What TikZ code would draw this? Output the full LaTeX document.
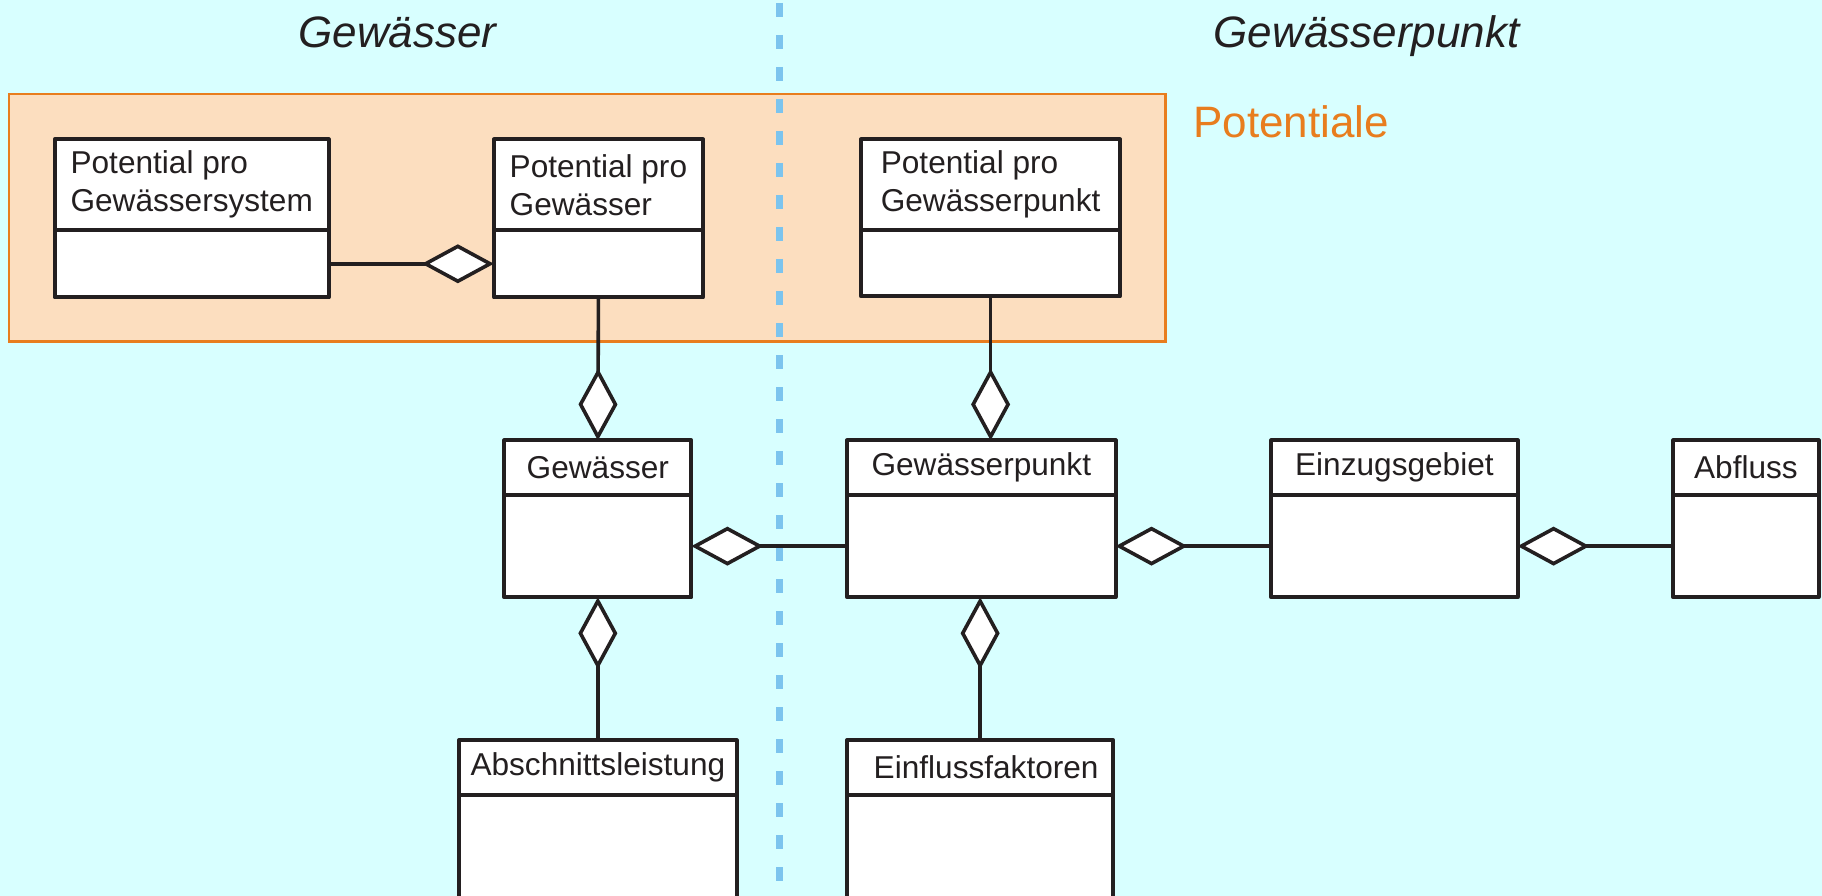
\documentclass[tikz,border=0pt]{standalone}
\usepackage{fontspec}
\setmainfont{Liberation Sans}
\usepackage{tikz}
\usetikzlibrary{positioning,arrows.meta}

\definecolor{bgcyan}{RGB}{216,255,255}
\definecolor{potfill}{RGB}{252,222,191}
\definecolor{potorange}{RGB}{232,125,30}
\definecolor{sepblue}{RGB}{124,196,238}
\definecolor{umlline}{RGB}{35,31,32}

\tikzset{
  classbox/.style={draw=umlline, line width=2pt, fill=white, inner sep=0pt, outer sep=0pt, line join=round},
  classhead/.style 2 args={classbox, font=\fontsize{15.8}{19}\selectfont, text=umlline, align=left,
    minimum width=#1*0.581pt, minimum height=#2*0.581pt},
  classbody/.style n args={3}{classbox, below=0pt of #1,
    minimum width=#2*0.581pt, minimum height=#3*0.581pt},
  agg/.style={draw=umlline, line width=1.8pt, -{Diamond[fill=white, length=36pt, width=19.5pt]}},
  title/.style={font=\fontsize{22}{26}\selectfont\itshape, text=umlline, anchor=base},
}

\begin{document}
\begin{tikzpicture}[x=0.581pt, y=-0.581pt]
\clip (0,0) rectangle (1568,771);
\fill[bgcyan] (0,0) rectangle (1568,771);

% Gruppe Potentiale
\draw[potorange, fill=potfill, line width=1.2pt] (8,81) rectangle (1003,294);
\node[text=potorange, font=\fontsize{22}{26}\selectfont, anchor=base west] (potlabel) at (1021,118) {Potentiale};

% Trennlinie
\draw[sepblue, line width=3.5pt, dash pattern=on 7pt off 9pt, dash phase=14.5pt] (671,0) -- (671,771);

\node[title] (title-gw) at (342,41) {Gewässer};
\node[title] (title-gwp) at (1176,41) {Gewässerpunkt};

% Klassen
\node[classhead={236}{78}] (ppgs) at (165,159) {Potential pro\\Gewässersystem};
\node[classbody={ppgs}{236}{58}] (ppgs-b) {};
\node[classhead={180}{78}] (ppg) at (515,159) {Potential pro\\Gewässer};
\node[classbody={ppg}{180}{58}] (ppg-b) {};
\node[classhead={223}{78}] (ppgp) at (852.5,159) {Potential pro\\Gewässerpunkt};
\node[classbody={ppgp}{223}{57}] (ppgp-b) {};

\node[classhead={161}{47}] (gw) at (514.5,402.5) {Gewässer};
\node[classbody={gw}{161}{88}] (gw-b) {};
\node[classhead={231}{47}] (gwp) at (844.5,402.5) {Gewässerpunkt};
\node[classbody={gwp}{231}{88}] (gwp-b) {};
\node[classhead={212}{47}] (ezg) at (1200,402.5) {Einzugsgebiet};
\node[classbody={ezg}{212}{88}] (ezg-b) {};
\node[classhead={125}{47}] (abf) at (1502.5,402.5) {Abfluss};
\node[classbody={abf}{125}{88}] (abf-b) {};

\node[classhead={239}{47}] (asl) at (514.5,660.5) {Abschnittsleistung};
\node[classbody={asl}{239}{150}] (asl-b) {};
\node[classhead={229}{47}] (eff) at (843.5,660.5) {\hspace*{6pt}\raisebox{-3pt}{Einflussfaktoren}};
\node[classbody={eff}{229}{150}] (eff-b) {};

% Aggregationen
\draw[agg] (ppgs-b.east) -- (ppg-b.west);
\draw[agg] (ppg-b.south) -- (gw.north);
\draw[agg] (ppgp-b.south) -- (ppgp-b.south |- gwp.north);
\draw[agg] (gwp-b.west) -- (gw-b.east);
\draw[agg] (ezg-b.west) -- (gwp-b.east);
\draw[agg] (abf-b.west) -- (ezg-b.east);
\draw[agg] (asl.north) -- (gw-b.south);
\draw[agg] (eff.north) -- (eff.north |- gwp-b.south);
\end{tikzpicture}
\end{document}
